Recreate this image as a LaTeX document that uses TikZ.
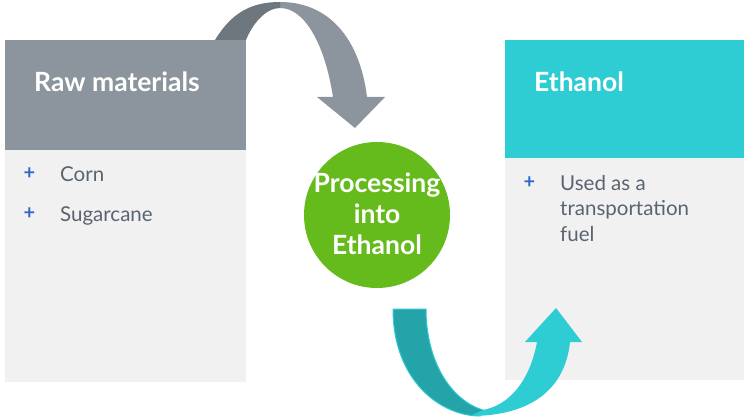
\documentclass[tikz,border=0pt]{standalone}
\usepackage{fontspec}
\setmainfont{Lato}
\definecolor{hdrgray}{HTML}{8C959D}
\definecolor{darkgray}{HTML}{6E767E}
\definecolor{panel}{HTML}{F1F1F1}
\definecolor{teal}{HTML}{2ECCD3}
\definecolor{darkteal}{HTML}{24A3A8}
\definecolor{green}{HTML}{65BA1C}
\definecolor{bullet}{HTML}{2F68C8}
\definecolor{txt}{HTML}{5A6470}
\tikzset{
  hdrtext/.style={text=white, font=\fontsize{26.5}{30}\selectfont\bfseries, anchor=west, inner sep=0pt},
  itemtext/.style={text=txt, font=\fontsize{20.5}{25.5}\selectfont, anchor=base west, align=left, inner sep=0pt},
  plus/.style={text=bullet, font=\fontsize{20}{20}\selectfont\bfseries, anchor=center, inner sep=0pt},
}
\begin{document}
\begin{tikzpicture}[x=1pt,y=-1pt]
\useasboundingbox (0,0) rectangle (744,417);
% left panel
\fill[panel] (5,150) rectangle (246,382);
\fill[hdrgray] (5,40) rectangle (246,150);
% right panel
\fill[panel] (505,158) rectangle (744,380);
\fill[teal] (505,40) rectangle (744,158);
% gray arrow
\fill[hdrgray] (280,2) .. controls (330,2) and (360,40) .. (367,97)
  -- (385,97) -- (355,128) -- (317,97) -- (333,97)
  .. controls (325,45) and (305,8) .. (280,8) -- cycle;
\fill[darkgray] (215,40) .. controls (232,12) and (252,2) .. (280,2)
  -- (280,8) .. controls (265,8) and (252,25) .. (246,40) -- cycle;
% teal arrow
\filldraw[fill=darkteal, draw=teal, line width=1pt] (393,309) -- (426,309) .. controls (426,360) and (450,400) .. (483,410)
  -- (480,416) .. controls (440,416) and (393,380) .. (393,309) -- cycle;
\fill[teal] (470,416) .. controls (530,416) and (565,390) .. (570,342)
  -- (582,342) -- (556,308) -- (525,342) -- (537,342)
  .. controls (530,380) and (510,405) .. (483,410) -- cycle;
% circle
\node[circle, fill=green, minimum size=146pt, inner sep=0pt] (proc) at (377,215) {};
\node[text=white, font=\fontsize{26.5}{31}\selectfont\bfseries, align=center, inner sep=0pt] (proclbl) at (377,214) {Processing\\into\\Ethanol};
% headers
\node[hdrtext] (raw) at (34,82) {Raw materials};
\node[hdrtext] (eth) at (534,82) {Ethanol};
% items
\node[plus] (p1) at (29.5,174) {+};
\node[itemtext] (corn) at (60,181) {Corn};
\node[plus] (p2) at (29.5,214) {+};
\node[itemtext] (sugar) at (60,221) {Sugarcane};
\node[plus] (p3) at (529.5,183) {+};
\node[itemtext, anchor=north west] (used) at (560,175) {Used as a\\transportation\\fuel};
\end{tikzpicture}
\end{document}
